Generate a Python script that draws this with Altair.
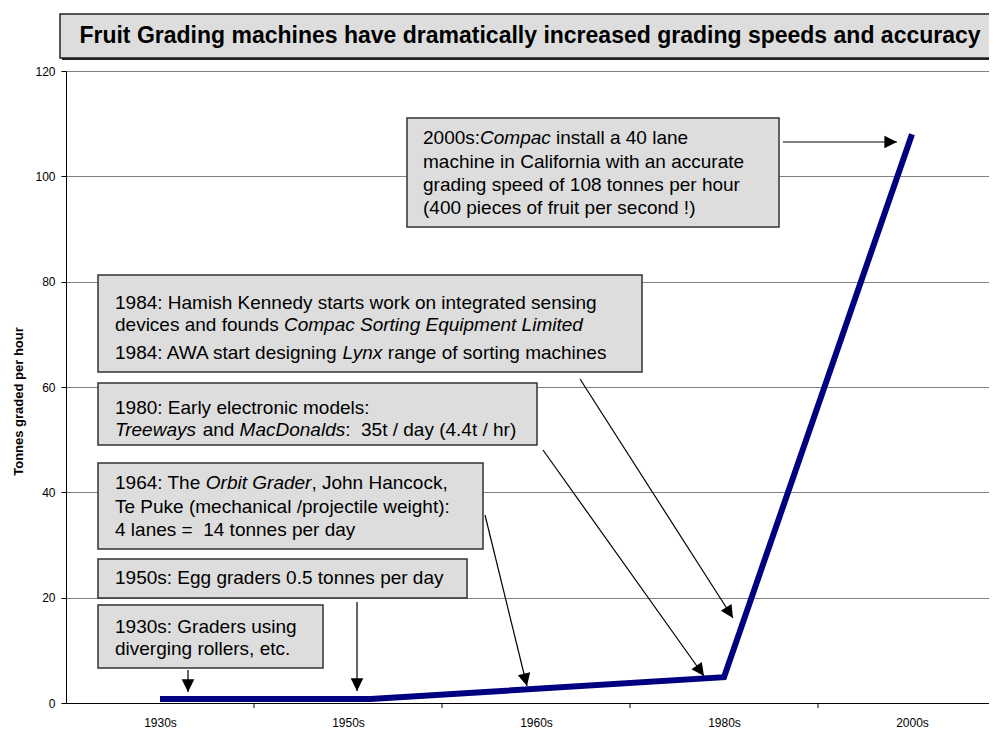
import json
import math
import altair as alt
import pandas as pd

# ---------------- data ----------------
periods = ["1930s", "1950s", "1980s", "2000s"]
period_pos = [0, 1.12, 3, 4]            # position on the decade axis (1930s = 0)
tonnes_per_hour = [0.75, 0.75, 4.9, 108]
axis_labels = ["1930s", "1950s", "1960s", "1980s", "2000s"]
y_ticks = [0, 20, 40, 60, 80, 100, 120]

title_text = "Fruit Grading machines have dramatically increased grading speeds and accuracy"
y_title = "Tonnes graded per hour"

# annotation texts: each line is a list of (text, italic)
notes = [
    [[("2000s:", False), ("Compac", True), (" install a 40 lane", False)],
     [("machine in California with an accurate", False)],
     [("grading speed of 108 tonnes per hour", False)],
     [("(400 pieces of fruit per second !)", False)]],
    [[("1984: Hamish Kennedy starts work on integrated sensing", False)],
     [("devices and founds ", False), ("Compac Sorting Equipment Limited", True)],
     [("1984: AWA start designing ", False), ("Lynx", True), (" range of sorting machines", False)]],
    [[("1980: Early electronic models:", False)],
     [("Treeways", True), (" and ", False), ("MacDonalds", True), (":  35t / day (4.4t / hr)", False)]],
    [[("1964: The ", False), ("Orbit Grader", True), (", John Hancock,", False)],
     [("Te Puke (mechanical /projectile weight):", False)],
     [("4 lanes =  14 tonnes per day", False)]],
    [[("1950s: Egg graders 0.5 tonnes per day", False)]],
    [[("1930s: Graders using", False)],
     [("diverging rollers, etc.", False)]],
]

# ---------------- layout (page pixels) ----------------
OX, OY = 66, 71          # plot origin on the page
W, H = 923, 632          # plot size
STEP = 188               # px per decade slot

boxes = [  # left, top, right, bottom
    (407, 118, 779, 227),
    (98, 275, 642, 372),
    (98, 383, 537, 445),
    (98, 463, 483, 549),
    (98, 559, 467, 598),
    (98, 605, 323, 668),
]
text_left = [423, 115, 115, 115, 115, 115]
line_y = [
    [138, 162, 185, 208],
    [303, 325, 353],
    [408, 430],
    [483, 507, 530],
    [578],
    [627, 649],
]
arrows = [  # start x, start y, tip x, tip y
    (188, 670, 188, 692),
    (357, 602, 357, 691),
    (485, 515, 527, 686),
    (543, 450, 704, 676),
    (580, 379, 733, 618),
    (783, 142, 897, 142),
]
FS = 19
FONT = "Liberation Sans"

AW = {' ': 278, '!': 278, '(': 333, ')': 333, ',': 278, '-': 333, '.': 278, '/': 278,
      ':': 278, '=': 584,
      'A': 667, 'B': 667, 'C': 722, 'D': 722, 'E': 667, 'F': 611, 'G': 778, 'H': 722,
      'I': 278, 'J': 500, 'K': 667, 'L': 556, 'M': 833, 'N': 722, 'O': 778, 'P': 667,
      'Q': 778, 'R': 722, 'S': 667, 'T': 611, 'U': 722, 'V': 667, 'W': 944, 'X': 667,
      'Y': 667, 'Z': 611,
      'a': 556, 'b': 556, 'c': 500, 'd': 556, 'e': 556, 'f': 278, 'g': 556, 'h': 556,
      'i': 222, 'j': 222, 'k': 500, 'l': 222, 'm': 833, 'n': 556, 'o': 556, 'p': 556,
      'q': 556, 'r': 333, 's': 500, 't': 278, 'u': 556, 'v': 500, 'w': 722, 'x': 500,
      'y': 500, 'z': 500}
KERN = {("A", "W"): -74, ("W", "A"): -74}


def tw(s):
    total = sum(AW.get(c, 556) for c in s)
    total += sum(KERN.get((a, b), 0) for a, b in zip(s, s[1:]))
    return total * FS / 1000.0


def rx(x):
    return x - OX


def ry(y):
    return y - OY


# ---------------- tables ----------------
line_df = pd.DataFrame({"period": periods, "pos": period_pos, "tph": tonnes_per_hour})
tick_df = pd.DataFrame({"b": [0.5, 1.5, 2.5, 3.5]})

box_df = pd.DataFrame([{"x": rx(l), "x2": rx(r), "y": ry(t), "y2": ry(b)} for l, t, r, b in boxes])

segs = []
for bi, note in enumerate(notes):
    for li, line in enumerate(note):
        cur = text_left[bi]
        for txt, ital in line:
            lead = len(txt) - len(txt.lstrip(" "))
            cur += tw(txt[:lead])
            body = txt.strip(" ").replace("  ", " \u00a0")
            segs.append({"x": rx(cur), "y": ry(line_y[bi][li]), "t": body,
                         "style": "italic" if ital else "normal"})
            cur += tw(txt[lead:])
seg_df = pd.DataFrame(segs)

arr_rows = []
head_rows = []
for sx, sy, tx, ty in arrows:
    arr_rows.append({"x": rx(sx), "y": ry(sy), "x2": rx(tx), "y2": ry(ty)})
    ang = math.degrees(math.atan2(tx - sx, -(ty - sy))) % 360
    head_rows.append({"x": rx(tx), "y": ry(ty), "a": ang})
arr_df = pd.DataFrame(arr_rows)
head_df = pd.DataFrame(head_rows)

title_box = pd.DataFrame([{"x": rx(60), "x2": rx(1000), "y": ry(14), "y2": ry(58),
                           "tx": rx(530), "ty": ry(36), "t": title_text}])
title_shadow = pd.DataFrame([{"x": rx(62), "x2": rx(1002), "y": ry(16), "y2": ry(60)}])

# ---------------- chart ----------------
x_dom = [-0.5, -0.5 + W / STEP]
label_expr = json.dumps(axis_labels) + "[datum.value]"

xscale = alt.Scale(domain=x_dom, nice=False, zero=False)
yscale = alt.Scale(domain=[0, 120], nice=False)

line = alt.Chart(line_df).mark_line(
    color="#000080", strokeWidth=6, strokeJoin="miter", strokeCap="butt"
).encode(
    x=alt.X("pos:Q", scale=xscale,
            axis=alt.Axis(values=[0, 1, 2, 3, 4], labelExpr=label_expr, title=None,
                          ticks=False, grid=False, labelPadding=14, labelFontSize=12,
                          labelFont=FONT, labelColor="black", domainColor="black",
                          labelFlush=False)),
    y=alt.Y("tph:Q", scale=yscale,
            axis=alt.Axis(values=y_ticks, title=y_title, grid=True, gridColor="#808080",
                          gridWidth=1, tickSize=5, tickColor="black", domainColor="black",
                          labelFontSize=12, labelFont=FONT, labelColor="black",
                          labelPadding=6, titleFont=FONT, titleFontSize=13,
                          titleFontWeight="bold", titleColor="black", titleAngle=270,
                          titleX=-48, titleY=330, titleAlign="center",
                          titleBaseline="middle")),
)

ticks = alt.Chart(tick_df).mark_rule(color="black", strokeWidth=1).encode(
    x=alt.X("b:Q", scale=xscale),
    y=alt.value(H),
    y2=alt.value(H + 5),
)


def px(f):
    return alt.X(f + ":Q", scale=None, axis=None)


def py(f):
    return alt.Y(f + ":Q", scale=None, axis=None)


rects = alt.Chart(box_df).mark_rect(fill="#DDDDDD", stroke="#333333", strokeWidth=1.5).encode(
    x=px("x"), x2="x2:Q", y=py("y"), y2="y2:Q")

arrow_lines = alt.Chart(arr_df).mark_rule(color="black", strokeWidth=1.2).encode(
    x=px("x"), y=py("y"), x2="x2:Q", y2="y2:Q")

heads = alt.Chart(head_df).mark_point(
    shape="M0,0 L-1,2 L1,2 Z", filled=True, size=160, color="black", opacity=1
).encode(x=px("x"), y=py("y"), angle=alt.Angle("a:Q", scale=None))

txt_normal = alt.Chart(seg_df).transform_filter(alt.datum.style == "normal").mark_text(
    align="left", baseline="middle", font=FONT, fontSize=FS, color="black"
).encode(x=px("x"), y=py("y"), text="t:N")

txt_italic = alt.Chart(seg_df).transform_filter(alt.datum.style == "italic").mark_text(
    align="left", baseline="middle", font=FONT, fontSize=FS, fontStyle="italic", color="black"
).encode(x=px("x"), y=py("y"), text="t:N")

tshadow = alt.Chart(title_shadow).mark_rect(fill="#222222").encode(
    x=px("x"), x2="x2:Q", y=py("y"), y2="y2:Q")
tbox = alt.Chart(title_box).mark_rect(fill="#DDDDDD", stroke="#222222", strokeWidth=1.5).encode(
    x=px("x"), x2="x2:Q", y=py("y"), y2="y2:Q")
ttext = alt.Chart(title_box).mark_text(
    align="center", baseline="middle", font=FONT, fontSize=23, fontWeight="bold", color="black"
).encode(x=px("tx"), y=py("ty"), text="t:N")

chart = alt.layer(
    line, ticks, rects, arrow_lines, heads, txt_normal, txt_italic, tshadow, tbox, ttext
).properties(
    width=W, height=H,
    autosize=alt.AutoSizeParams(type="none"),
    padding={"left": OX - 8, "top": OY - 8, "right": 0, "bottom": 30},
).configure_view(stroke=None).configure(background="white")

chart.save("out.html", embed_options={"renderer": "svg", "actions": False})
